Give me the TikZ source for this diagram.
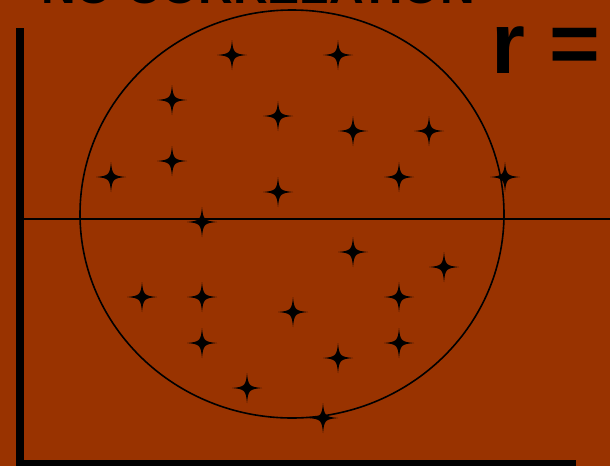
\documentclass[tikz,border=0pt]{standalone}
\usepackage{fontspec}
\setmainfont{Liberation Sans}
\definecolor{bg}{HTML}{993300}
\tikzset{
  starmark/.pic={\fill[black] (15,0) .. controls (2.2,1.2) and (1.2,2.2) .. (0,15)
     .. controls (-1.2,2.2) and (-2.2,1.2) .. (-15,0)
     .. controls (-2.2,-1.2) and (-1.2,-2.2) .. (0,-15)
     .. controls (1.2,-2.2) and (2.2,-1.2) .. (15,0) -- cycle;},
  bigtext/.style={font=\fontsize{87}{87}\selectfont\bfseries, text=black, inner sep=0pt},
  titletext/.style={font=\fontsize{48}{48}\selectfont\bfseries, text=black, inner sep=0pt}
}
\begin{document}
\begin{tikzpicture}[x=1pt,y=-1pt]
\fill[bg] (0,0) rectangle (610,466);
\useasboundingbox (0,0) rectangle (610,466);
% title (mostly cut off at the top edge)
\node[titletext, anchor=base west] (title) at (41,3) {NO CORRELATION};
% r =
\node[bigtext, anchor=base west] (rlabel) at (491,73) {r = 0};
% axes
\fill[black] (16,28) rectangle (24,466);
\fill[black] (16,460) rectangle (576,466);
% zero line
\draw[line width=1.5] (20,219) -- (610,219);
% ellipse
\draw[line width=1.6] (292,214) ellipse [x radius=212, y radius=204];
% stars
\foreach \x/\y in {232/55,338/55,172/100,278/116,353/131,429/131,172/161,111/177,
  278/192,399/177,505/177,202/222,353/252,444/267,142/297,202/297,293/312,399/297,
  202/343,399/343,338/358,247/388,323/418}
  \pic at (\x,\y) {starmark};
\end{tikzpicture}
\end{document}
